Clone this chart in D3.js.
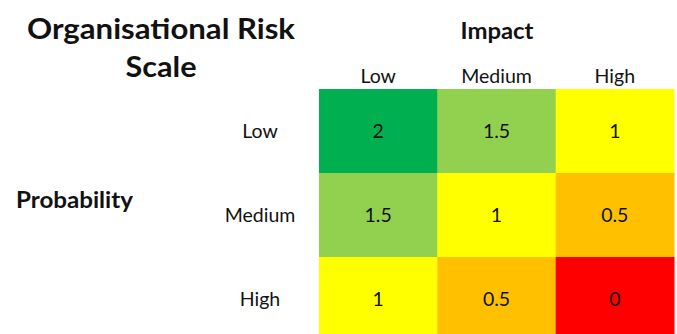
<!DOCTYPE html>
<html><head><meta charset="utf-8">
<script src="https://cdn.jsdelivr.net/npm/d3@7"></script>
<style>body{margin:0;background:#fff;}svg{display:block;}</style>
</head><body>
<script>
const impactLevels = ["Low", "Medium", "High"];
const probabilityLevels = ["Low", "Medium", "High"];
// rows = probability, columns = impact
const scoreLow = [2, 1.5, 1];
const scoreMedium = [1.5, 1, 0.5];
const scoreHigh = [1, 0.5, 0];
const scoreRows = [scoreLow, scoreMedium, scoreHigh];
const colorValues = [2, 1.5, 1, 0.5, 0];
const colorList = ["#00B050", "#92D050", "#FFFF00", "#FFC000", "#FF0000"];
const titleLines = ["Organisational Risk", "Scale"];

const W = 677, H = 334;
const font = "Lato, 'Open Sans', sans-serif";
const svg = d3.select("body").append("svg").attr("width", W).attr("height", H);

const x = d3.scaleBand().domain(impactLevels).range([319, 674]);
const y = d3.scaleBand().domain(probabilityLevels).range([89, 341]);
const color = d3.scaleOrdinal().domain(colorValues).range(colorList);

const cells = [];
probabilityLevels.forEach((p, i) => impactLevels.forEach((c, j) => cells.push({p, c, v: scoreRows[i][j]})));

svg.selectAll("rect.cell").data(cells).join("rect")
  .attr("class", "cell")
  .attr("x", d => x(d.c)).attr("y", d => y(d.p))
  .attr("width", x.bandwidth() + 0.5).attr("height", y.bandwidth() + 0.5)
  .attr("fill", d => color(d.v));

svg.selectAll("text.val").data(cells).join("text")
  .attr("class", "val")
  .attr("x", d => x(d.c) + x.bandwidth() / 2)
  .attr("y", d => y(d.p) + 49)
  .attr("text-anchor", "middle")
  .style("font-family", font).style("font-size", "19.5px").attr("fill", "#111")
  .text(d => d.v);

// column labels
svg.selectAll("text.col").data(impactLevels).join("text")
  .attr("class", "col")
  .attr("x", d => x(d) + x.bandwidth() / 2).attr("y", 83)
  .attr("text-anchor", "middle")
  .style("font-family", font).style("font-size", "19.5px").attr("fill", "#111")
  .text(d => d);

// row labels
svg.selectAll("text.row").data(probabilityLevels).join("text")
  .attr("class", "row")
  .attr("x", 260).attr("y", d => y(d) + 49)
  .attr("text-anchor", "middle")
  .style("font-family", font).style("font-size", "19.5px").attr("fill", "#111")
  .text(d => d);

// Impact header
svg.append("text").attr("x", 497).attr("y", 39).attr("text-anchor", "middle")
  .style("font-family", font).style("font-size", "23px").style("font-weight", "bold").attr("fill", "#111")
  .attr("textLength", 73).attr("lengthAdjust", "spacingAndGlyphs")
  .text("Impact");

// Probability header
svg.append("text").attr("x", 16).attr("y", 208)
  .style("font-family", font).style("font-size", "23px").style("font-weight", "bold").attr("fill", "#111")
  .attr("textLength", 117).attr("lengthAdjust", "spacingAndGlyphs")
  .text("Probability");

// Title
const titleWidths = [268, 71];
svg.selectAll("text.title").data(titleLines).join("text")
  .attr("class", "title")
  .attr("x", 161).attr("y", (d, i) => 39 + i * 38)
  .attr("text-anchor", "middle")
  .style("font-family", font).style("font-size", "29px").style("font-weight", "bold").attr("fill", "#111")
  .attr("textLength", (d, i) => titleWidths[i]).attr("lengthAdjust", "spacingAndGlyphs")
  .text(d => d);
</script>
</body></html>
